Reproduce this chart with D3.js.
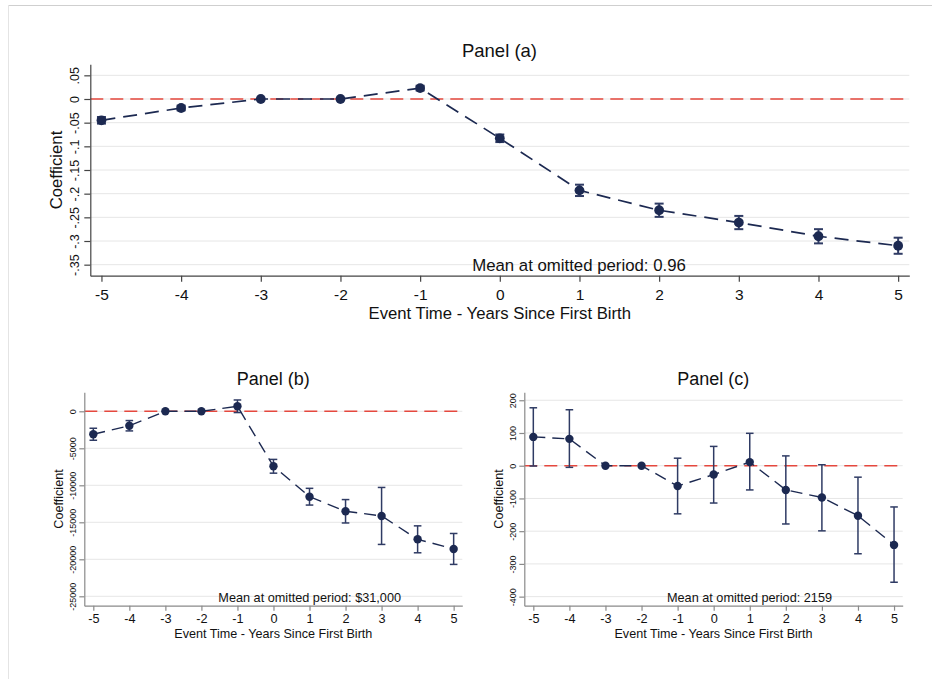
<!DOCTYPE html>
<html>
<head>
<meta charset="utf-8">
<script src="https://cdn.jsdelivr.net/npm/d3@7"></script>
<style>
  html, body { margin: 0; padding: 0; background: #fff; }
  svg { display: block; font-family: "Liberation Sans", Arial, Helvetica, sans-serif; }
</style>
</head>
<body>
<svg id="chart" width="932" height="679"></svg>
<script>
// ---------- data ----------
const eventTime = [-5, -4, -3, -2, -1, 0, 1, 2, 3, 4, 5];
const xLabels = ["-5", "-4", "-3", "-2", "-1", "0", "1", "2", "3", "4", "5"];

const coefA = [-0.045, -0.019, 0, 0, 0.023, -0.083, -0.193, -0.235, -0.261, -0.290, -0.310];
const lowA  = [-0.052, -0.024, null, null, 0.018, -0.091, -0.205, -0.249, -0.275, -0.305, -0.327];
const highA = [-0.038, -0.014, null, null, 0.028, -0.075, -0.181, -0.221, -0.247, -0.275, -0.293];

const coefB = [-3100, -1950, 0, 0, 680, -7430, -11540, -13510, -14140, -17300, -18600];
const lowB  = [-3910, -2650, null, null, -170, -8360, -12670, -15090, -17990, -19120, -20690];
const highB = [-2290, -1250, null, null, 1530, -6500, -10410, -11930, -10290, -15480, -16510];

const coefC = [88, 82, 0, 0, -62, -27, 11, -74, -97, -153, -242];
const lowC  = [-1, -5, null, null, -147, -114, -74, -178, -199, -269, -356];
const highC = [177, 171, null, null, 23, 59, 99, 30, 3, -35, -126];

const yTicksA = [0.05, 0, -0.05, -0.1, -0.15, -0.2, -0.25, -0.3, -0.35];
const yLabelsA = [".05", "0", "-.05", "-.1", "-.15", "-.2", "-.25", "-.3", "-.35"];
const yTicksB = [0, -5000, -10000, -15000, -20000, -25000];
const yLabelsB = ["0", "-5000", "-10000", "-15000", "-20000", "-25000"];
const yTicksC = [200, 100, 0, -100, -200, -300, -400];
const yLabelsC = ["200", "100", "0", "-100", "-200", "-300", "-400"];

const titles = ["Panel (a)", "Panel (b)", "Panel (c)"];
const xTitle = "Event Time - Years Since First Birth";
const yTitle = "Coefficient";
const meanNotes = ["Mean at omitted period: 0.96", "Mean at omitted period: $31,000", "Mean at omitted period: 2159"];

// ---------- styles ----------
const NAVY = "#1c2951";
const BAR = "#2f3b64";
const RED = "#e5483e";
const GRID = "#e6e6e6";

const svg = d3.select("#chart");

// page frame
svg.append("line").attr("x1", 8).attr("x2", 932).attr("y1", 5.5).attr("y2", 5.5)
  .attr("stroke", "#cfcfcf").attr("stroke-width", 1);
svg.append("line").attr("x1", 8.5).attr("x2", 8.5).attr("y1", 5).attr("y2", 679)
  .attr("stroke", "#e4e4e4").attr("stroke-width", 1);

function drawPanel(p) {
  const g = svg.append("g");
  const x = d3.scaleLinear().domain(p.xDomain).range([p.left, p.right]);
  const y = d3.scaleLinear().domain(p.yDomain).range([p.bottom, p.top]);

  // grid
  g.selectAll("line.grid").data(p.yTicks).join("line")
    .attr("class", "grid")
    .attr("x1", p.left).attr("x2", p.right)
    .attr("y1", d => y(d)).attr("y2", d => y(d))
    .attr("stroke", GRID).attr("stroke-width", 1);

  // zero reference line
  g.append("line")
    .attr("x1", p.left).attr("x2", p.right)
    .attr("y1", y(0)).attr("y2", y(0))
    .attr("stroke", RED).attr("stroke-width", 1.6)
    .attr("stroke-dasharray", p.redDash);

  // y axis
  const ya = g.append("g").attr("transform", `translate(${p.left},0)`)
    .call(d3.axisLeft(y).tickValues(p.yTicks).tickFormat((d, i) => p.yLabels[i])
      .tickSize(p.tick).tickSizeOuter(0));
  ya.select(".domain").attr("stroke", p.axisColor).attr("stroke-width", p.axisW);
  ya.selectAll(".tick line").attr("stroke", p.axisColor).attr("stroke-width", p.axisW);
  ya.selectAll(".tick text")
    .attr("transform", "rotate(-90)")
    .attr("x", 0).attr("y", -p.yLabOff).attr("dy", 0)
    .attr("text-anchor", "middle")
    .attr("font-size", p.yTickFont).attr("fill", "#111")
    .attr("font-family", null);

  // x axis
  const xa = g.append("g").attr("transform", `translate(0,${p.bottom})`)
    .call(d3.axisBottom(x).tickValues(eventTime).tickFormat((d, i) => xLabels[i])
      .tickSize(p.tick).tickSizeOuter(0));
  xa.select(".domain").attr("stroke", p.axisColor).attr("stroke-width", p.axisW);
  xa.selectAll(".tick line").attr("stroke", p.axisColor).attr("stroke-width", p.axisW);
  xa.selectAll(".tick text")
    .attr("y", p.xLabOff).attr("dy", 0)
    .attr("font-size", p.xTickFont).attr("fill", "#111")
    .attr("font-family", null);

  // connecting dashed line
  const pts = eventTime.map((t, i) => [t, p.coef[i]]);
  g.append("path")
    .datum(pts)
    .attr("d", d3.line().x(d => x(d[0])).y(d => y(d[1])))
    .attr("fill", "none").attr("stroke", NAVY).attr("stroke-width", p.lineW)
    .attr("stroke-dasharray", p.navyDash);

  // error bars
  const ci = eventTime.map((t, i) => ({ t, lo: p.low[i], hi: p.high[i] })).filter(d => d.lo !== null);
  const eb = g.selectAll("g.eb").data(ci).join("g").attr("class", "eb");
  eb.append("line")
    .attr("x1", d => x(d.t)).attr("x2", d => x(d.t))
    .attr("y1", d => y(d.lo)).attr("y2", d => y(d.hi))
    .attr("stroke", BAR).attr("stroke-width", p.barW);
  ["lo", "hi"].forEach(k => {
    eb.append("line")
      .attr("x1", d => x(d.t) - p.cap).attr("x2", d => x(d.t) + p.cap)
      .attr("y1", d => y(d[k])).attr("y2", d => y(d[k]))
      .attr("stroke", BAR).attr("stroke-width", p.barW);
  });

  // markers
  g.selectAll("circle.pt").data(pts).join("circle")
    .attr("class", "pt")
    .attr("cx", d => x(d[0])).attr("cy", d => y(d[1]))
    .attr("r", p.r).attr("fill", NAVY);

  // titles
  g.append("text").text(p.title)
    .attr("x", p.titleX).attr("y", p.titleY).attr("text-anchor", "middle")
    .attr("font-size", p.titleFont).attr("fill", "#111");
  g.append("text").text(xTitle)
    .attr("x", (p.left + p.right) / 2).attr("y", p.xTitleY).attr("text-anchor", "middle")
    .attr("font-size", p.axisTitleFont).attr("fill", "#111");
  g.append("text").text(yTitle)
    .attr("transform", `translate(${p.yTitleX},${(p.top + p.bottom) / 2}) rotate(-90)`)
    .attr("text-anchor", "middle")
    .attr("font-size", p.axisTitleFont).attr("fill", "#111");
  g.append("text").text(p.note)
    .attr("x", p.noteX).attr("y", p.noteY).attr("text-anchor", "middle")
    .attr("font-size", p.noteFont).attr("fill", "#111");
}

drawPanel({
  coef: coefA, low: lowA, high: highA,
  yTicks: yTicksA, yLabels: yLabelsA,
  xDomain: [-5.14, 5.14], yDomain: [-0.3733, 0.0733],
  left: 90.3, right: 909.3, top: 64.3, bottom: 275.7,
  tick: 6, yLabOff: 11.8, xLabOff: 24.3,
  yTickFont: 12.5, xTickFont: 15.5,
  axisColor: "#444", axisW: 1.2,
  lineW: 1.7, navyDash: "14,8", redDash: "13,7",
  barW: 2, cap: 4.5, r: 4.9,
  title: titles[0], titleX: 499.5, titleY: 57, titleFont: 18.5,
  xTitleY: 319, yTitleX: 61.5, axisTitleFont: 16.7,
  note: meanNotes[0], noteX: 579, noteY: 271, noteFont: 16.8
});

drawPanel({
  coef: coefB, low: lowB, high: highB,
  yTicks: yTicksB, yLabels: yLabelsB,
  xDomain: [-5.25, 5.24], yDomain: [-26270, 2568],
  left: 84.3, right: 462.3, top: 392.3, bottom: 605.7,
  tick: 5, yLabOff: 8.6, xLabOff: 17.3,
  yTickFont: 9, xTickFont: 12.7,
  axisColor: "#8a8a8a", axisW: 1.2,
  lineW: 1.4, navyDash: "12,7", redDash: "13,7",
  barW: 1.5, cap: 3.8, r: 4.2,
  title: titles[1], titleX: 273.3, titleY: 385, titleFont: 18,
  xTitleY: 638, yTitleX: 63, axisTitleFont: 12.6,
  note: meanNotes[1], noteX: 309.7, noteY: 602, noteFont: 12.7
});

drawPanel({
  coef: coefC, low: lowC, high: highC,
  yTicks: yTicksC, yLabels: yLabelsC,
  xDomain: [-5.25, 5.24], yDomain: [-427.7, 224.3],
  left: 524.3, right: 902.7, top: 392.3, bottom: 605.7,
  tick: 5, yLabOff: 8.3, xLabOff: 17.3,
  yTickFont: 9, xTickFont: 12.7,
  axisColor: "#8a8a8a", axisW: 1.2,
  lineW: 1.4, navyDash: "12,7", redDash: "13,7",
  barW: 1.5, cap: 3.8, r: 4.2,
  title: titles[2], titleX: 713.3, titleY: 385, titleFont: 18,
  xTitleY: 638, yTitleX: 503, axisTitleFont: 12.6,
  note: meanNotes[2], noteX: 749.5, noteY: 602, noteFont: 12.7
});
</script>
</body>
</html>
